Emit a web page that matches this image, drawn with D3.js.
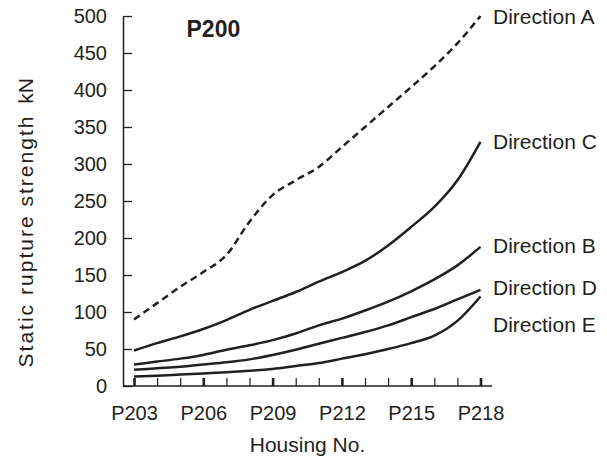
<!DOCTYPE html>
<html>
<head>
<meta charset="utf-8">
<script src="https://cdn.jsdelivr.net/npm/d3@7"></script>
<style>
  html, body { margin: 0; padding: 0; background: #fff; }
  svg { display: block; }
  text { font-family: "Liberation Sans", Arial, Helvetica, sans-serif; fill: #231f20; }
</style>
</head>
<body>
<svg id="chart" width="607" height="459"></svg>
<script>
const categories = ["P203","P204","P205","P206","P207","P208","P209","P210","P211","P212","P213","P214","P215","P216","P217","P218"];
const tickLabels = ["P203","P206","P209","P212","P215","P218"];
const yTicks = [0, 50, 100, 150, 200, 250, 300, 350, 400, 450, 500];

const dirA = [90, 112, 134, 154, 177, 222, 258, 278, 296, 323, 350, 377, 404, 432, 463, 500];
const dirC = [48, 58, 67, 77, 89, 103, 115, 127, 141, 154, 169, 190, 215, 242, 278, 330];
const dirB = [29, 33, 37, 42, 49, 55, 62, 71, 82, 91, 102, 114, 128, 144, 163, 188];
const dirD = [22, 24, 26, 29, 32, 36, 42, 49, 57, 65, 73, 82, 93, 104, 117, 130];
const dirE = [13, 14, 15.5, 17, 18.5, 20.5, 23, 27, 31, 37, 43, 50, 58, 68, 88, 121];

const seriesNames = ["Direction A", "Direction C", "Direction B", "Direction D", "Direction E"];
const seriesValues = [dirA, dirC, dirB, dirD, dirE];

const svg = d3.select("#chart");
const margin = { left: 123, top: 16, right: 115, bottom: 73 };
const W = 607, H = 459;
const plotRight = W - margin.right;   // 492
const plotBottom = H - margin.bottom; // 386

const x = d3.scalePoint().domain(categories).range([134, 480.5]);
const y = d3.scaleLinear().domain([0, 500]).range([plotBottom, margin.top]);

const ink = "#231f20";

// Y axis
const yAxis = d3.axisLeft(y).tickValues(yTicks).tickSizeInner(-9).tickSizeOuter(0).tickPadding(16);
const gy = svg.append("g").attr("transform", `translate(${margin.left},0)`).call(yAxis);
gy.select(".domain").attr("stroke", ink).attr("stroke-width", 1.5);
gy.selectAll(".tick line").attr("stroke", ink).attr("stroke-width", 1.3);
gy.selectAll(".tick text").attr("font-size", 20).attr("fill", ink)
  .attr("font-family", "'Liberation Sans', Arial, sans-serif");

// X axis (ticks point up, major every 3)
const xAxis = d3.axisBottom(x).tickSizeInner(-8).tickSizeOuter(0).tickPadding(20)
  .tickFormat(d => tickLabels.includes(d) ? d : "");
const gx = svg.append("g").attr("transform", `translate(0,${plotBottom})`).call(xAxis);
gx.select(".domain").attr("d", `M${margin.left},0H${plotRight}`).attr("stroke", ink).attr("stroke-width", 1.5);
gx.selectAll(".tick line").attr("stroke", ink)
  .attr("stroke-width", d => tickLabels.includes(d) ? 2.6 : 1.2);
gx.selectAll(".tick text").attr("font-size", 20).attr("fill", ink)
  .attr("font-family", "'Liberation Sans', Arial, sans-serif");

// Lines
const line = d3.line()
  .x((d, i) => x(categories[i]))
  .y(d => y(d))
  .curve(d3.curveMonotoneX);

seriesValues.forEach((vals, k) => {
  svg.append("path")
    .datum(vals)
    .attr("d", line)
    .attr("fill", "none")
    .attr("stroke", ink)
    .attr("stroke-width", 2.5)
    .attr("stroke-linecap", "butt")
    .attr("stroke-dasharray", k === 0 ? "7,4.5" : null);
});

// Direction labels (anchored to each series' last value; E sits below D)
const labelShift = [0, 0, -1.5, -2, 28];
seriesNames.forEach((name, k) => {
  const last = seriesValues[k][seriesValues[k].length - 1];
  svg.append("text")
    .attr("x", 493)
    .attr("y", y(last) + labelShift[k])
    .attr("dy", "0.36em")
    .attr("font-size", 21)
    .text(name);
});

// Panel title
svg.append("text")
  .attr("x", 186.5)
  .attr("y", 36.7)
  .attr("font-size", 23)
  .attr("font-weight", "bold")
  .text("P200");

// X axis title
svg.append("text")
  .attr("x", (margin.left + plotRight) / 2)
  .attr("y", 452)
  .attr("text-anchor", "middle")
  .attr("font-size", 21)
  .text("Housing No.");

// Y axis title
svg.append("text")
  .attr("transform", "translate(33,242) rotate(-90)")
  .attr("text-anchor", "middle")
  .attr("font-size", 21)
  .attr("textLength", 251)
  .attr("lengthAdjust", "spacing")
  .text("Static rupture strength");
svg.append("text")
  .attr("transform", "translate(33,91) rotate(-90)")
  .attr("text-anchor", "middle")
  .attr("font-size", 21)
  .attr("font-family", "'Liberation Serif', 'Times New Roman', serif")
  .text("kN");
</script>
</body>
</html>
